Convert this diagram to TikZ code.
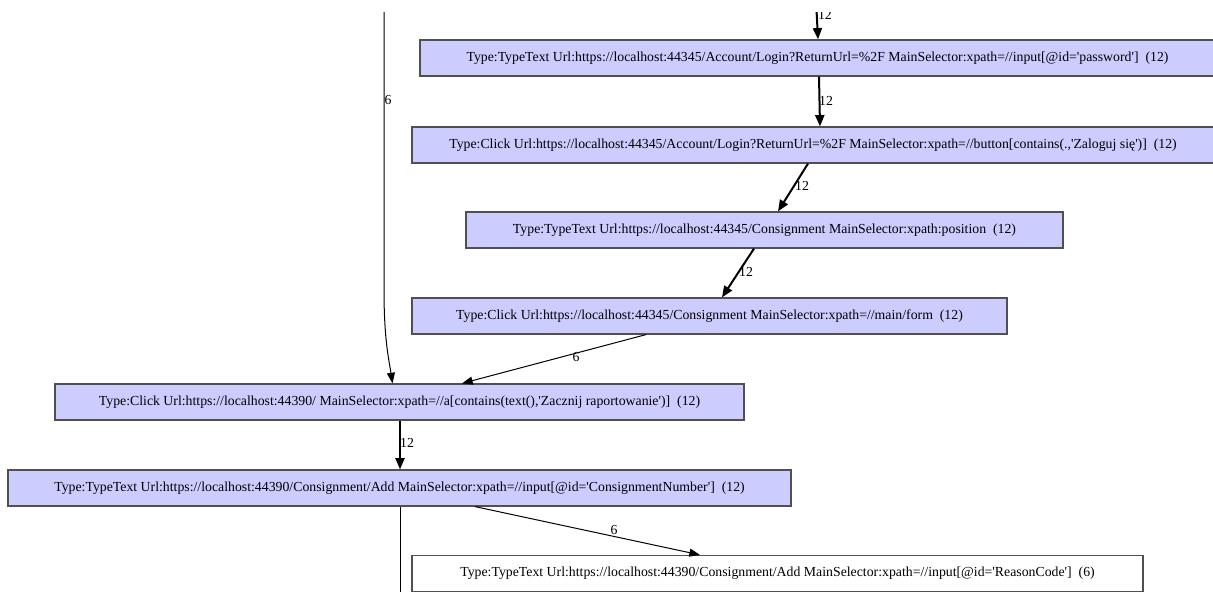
\documentclass[tikz,border=0pt]{standalone}
\usepackage{fontspec}
\setmainfont{Liberation Serif}[Ligatures=TeXOff]
\usetikzlibrary{arrows.meta,calc}
\definecolor{stepfill}{RGB}{204,204,255}
\definecolor{stepline}{RGB}{80,80,80}
\begin{document}
\begin{tikzpicture}[x=0.75pt,y=-0.75pt,
  stepbox/.style={draw=stepline,line width=0.9pt,fill=stepfill,minimum height=27pt,
    inner sep=0pt,font=\fontsize{10.35}{12}\selectfont},
  plainbox/.style={stepbox,fill=white},
  lbl/.style={font=\fontsize{10.35}{12}\selectfont,inner sep=0pt},
  thin/.style={draw=black,line width=0.75pt,-{Triangle[length=8pt,width=6pt]}},
  heavy/.style={draw=black,line width=1.5pt,-{Triangle[length=8.5pt,width=6.8pt]}},
  trail/.style={draw=black,line width=0.75pt}]
\useasboundingbox (0,0) rectangle (1213,592);
\begin{scope}
\clip (0,12.5) rectangle (1213,592);

% workflow steps
\node[stepbox,minimum width=596.25pt] (n1) at (817.5,58)
  {Type:TypeText Url:https://localhost:44345/Account/Login?ReturnUrl=\%2F MainSelector:xpath=//input[@id='password']\ \ (12)};
\node[stepbox,minimum width=601.5pt] (n2) at (813,145)
  {Type:Click Url:https://localhost:44345/Account/Login?ReturnUrl=\%2F MainSelector:xpath=//button[contains(.,'Zaloguj się')]\ \ (12)};
\node[stepbox,minimum width=447.75pt] (n3) at (764.5,230)
  {Type:TypeText Url:https://localhost:44345/Consignment MainSelector:xpath:position\ \ (12)};
\node[stepbox,minimum width=446.25pt] (n4) at (709.5,316)
  {Type:Click Url:https://localhost:44345/Consignment MainSelector:xpath=//main/form\ \ (12)};
\node[stepbox,minimum width=516.75pt] (n5) at (399.5,402)
  {Type:Click Url:https://localhost:44390/ MainSelector:xpath=//a[contains(text(),'Zacznij raportowanie')]\ \ (12)};
\node[stepbox,minimum width=587.25pt] (n6) at (399.5,488)
  {Type:TypeText Url:https://localhost:44390/Consignment/Add MainSelector:xpath=//input[@id='ConsignmentNumber']\ \ (12)};
\node[plainbox,minimum width=548.25pt] (n7) at (777.5,573.5)
  {Type:TypeText Url:https://localhost:44390/Consignment/Add MainSelector:xpath=//input[@id='ReasonCode']\ \ (6)};

% loose ends of edges entering and leaving the view
\coordinate (inA) at (816,0);
\coordinate (inB) at (384,0);
\coordinate (outA) at (400,596);

% transitions with their counts
\draw[heavy] (inA) -- ($(n1.north)+(0.5,0)$)
  node[lbl,anchor=west] at (817,14.5) {12};
\draw[heavy] ($(n1.south)+(1.5,0)$) -- ($(n2.north)+(7,0)$)
  node[lbl] at (826,101) {12};
\draw[heavy] ($(n2.south)+(-5,0)$) -- ($(n3.north)+(13.5,0)$)
  node[lbl] at (802,186) {12};
\draw[heavy] ($(n3.south)+(-10.5,0)$) -- ($(n4.north)+(12.5,0)$)
  node[lbl] at (746,272) {12};
\draw[thin] ($(n4.south)+(-63.5,0)$) -- ($(n5.north)+(62.5,0)$)
  node[lbl] at (576,357) {6};
\draw[thin] (inB) -- (384,290) .. controls (384,340) and (389,360) .. ($(n5.north)+(-7,0)$)
  node[lbl] at (388,100) {6};
\draw[heavy] ($(n5.south)+(0.5,0)$) -- ($(n6.north)+(0.5,0)$)
  node[lbl] at (407,443) {12};
\draw[thin] ($(n6.south)+(75.5,0)$) -- ($(n7.north)+(-77.5,0)$)
  node[lbl] at (614,530) {6};
\draw[trail] ($(n6.south)+(0.5,0)$) -- (outA);
\end{scope}
\end{tikzpicture}
\end{document}
